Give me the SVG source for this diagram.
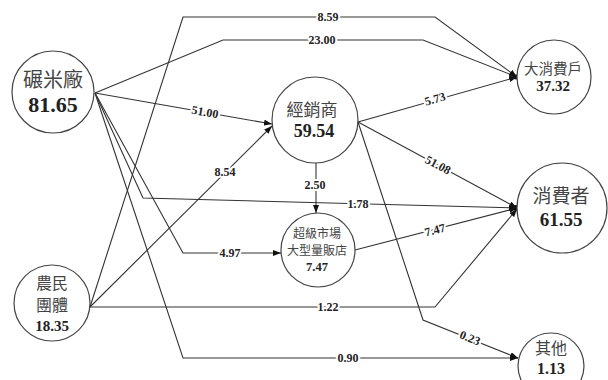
<svg xmlns="http://www.w3.org/2000/svg" width="608" height="380" viewBox="0 0 608 380">
<style>
.node{fill:#fff;stroke:#444;stroke-width:1.2}
.zh{font-family:"Noto Sans CJK TC","Noto Sans CJK SC",serif;fill:#444;text-anchor:middle}
.num{font-family:"Liberation Serif",serif;font-weight:bold;fill:#222;text-anchor:middle}
.edge{fill:none;stroke:#333;stroke-width:1.1}
.lbl{font-family:"Liberation Serif",serif;font-weight:bold;font-size:12px;fill:#222;text-anchor:middle;stroke:#fff;stroke-width:4;paint-order:stroke;stroke-linejoin:round}
</style>
<defs>
<marker id="arr" markerWidth="8" markerHeight="6" refX="8" refY="3" orient="auto" markerUnits="userSpaceOnUse">
<path d="M0,0 L8,3 L0,6 Z" fill="#111"/>
</marker>
</defs>
<rect width="608" height="380" fill="#fff"/>
<g id="connectors">
<polyline class="edge" points="95,93 223,40 423,40 517,77" marker-end="url(#arr)"/>
<polyline class="edge" points="90,307 183,17 435,17 517,77" marker-end="url(#arr)"/>
<line class="edge" x1="95" y1="93" x2="272" y2="124" marker-end="url(#arr)"/>
<line class="edge" x1="90" y1="307" x2="272" y2="126" marker-end="url(#arr)"/>
<line class="edge" x1="358" y1="122" x2="517" y2="77" marker-end="url(#arr)"/>
<line class="edge" x1="358" y1="122" x2="517" y2="208" marker-end="url(#arr)"/>
<line class="edge" x1="316" y1="163" x2="316" y2="213" marker-end="url(#arr)"/>
<polyline class="edge" points="95,93 143,198 517,208" marker-end="url(#arr)"/>
<polyline class="edge" points="95,93 183,253 281,253" marker-end="url(#arr)"/>
<line class="edge" x1="355" y1="250" x2="517" y2="208" marker-end="url(#arr)"/>
<polyline class="edge" points="90,307 435,307 517,209" marker-end="url(#arr)"/>
<polyline class="edge" points="95,93 183,358 518,358" marker-end="url(#arr)"/>
<polyline class="edge" points="358,122 423,320 518,358" marker-end="url(#arr)"/>
<circle cx="516" cy="77" r="2.5" fill="#111"/>
<circle cx="516" cy="208" r="3" fill="#111"/>
<text class="lbl" x="328" y="21">8.59</text>
<text class="lbl" x="322" y="44">23.00</text>
<text class="lbl" x="205" y="116" transform="rotate(10 205 112)">51.00</text>
<text class="lbl" x="225" y="176">8.54</text>
<text class="lbl" x="435" y="103" transform="rotate(-16 435 99)">5.73</text>
<text class="lbl" x="438" y="169" transform="rotate(28 438 165)">51.08</text>
<text class="lbl" x="315" y="189">2.50</text>
<text class="lbl" x="358" y="208">1.78</text>
<text class="lbl" x="230" y="257">4.97</text>
<text class="lbl" x="435" y="234" transform="rotate(-14.5 435 230)">7.47</text>
<text class="lbl" x="328" y="311">1.22</text>
<text class="lbl" x="348" y="362">0.90</text>
<text class="lbl" x="470" y="342" transform="rotate(22 470 338)">0.23</text>
</g>
<g id="mill">
<circle class="node" cx="53" cy="92" r="41"/>
<text class="zh" x="53" y="87" font-size="20">碾米廠</text>
<text class="num" x="53" y="112" font-size="22">81.65</text>
</g>
<g id="distributor">
<circle class="node" cx="315" cy="120" r="43"/>
<text class="zh" x="312" y="116" font-size="17">經銷商</text>
<text class="num" x="314" y="137" font-size="18">59.54</text>
</g>
<g id="bigconsumer">
<circle class="node" cx="554" cy="77" r="37"/>
<text class="zh" x="553" y="74" font-size="14.5">大消費戶</text>
<text class="num" x="553" y="91" font-size="15">37.32</text>
</g>
<g id="consumer">
<circle class="node" cx="562" cy="208" r="45"/>
<text class="zh" x="561" y="203" font-size="19">消費者</text>
<text class="num" x="561" y="226" font-size="19">61.55</text>
</g>
<g id="other">
<circle class="node" cx="551" cy="366" r="33"/>
<text class="zh" x="551" y="354" font-size="16">其他</text>
<text class="num" x="551" y="374" font-size="16">1.13</text>
</g>
<g id="farmers">
<circle class="node" cx="52" cy="303" r="38"/>
<text class="zh" x="52" y="289" font-size="16">農民</text>
<text class="zh" x="52" y="311" font-size="16">團體</text>
<text class="num" x="52" y="331" font-size="15">18.35</text>
</g>
<g id="supermarket">
<circle class="node" cx="318" cy="250" r="37"/>
<text class="zh" x="317" y="238" font-size="12">超級市場</text>
<text class="zh" x="317" y="255" font-size="12">大型量販店</text>
<text class="num" x="317" y="271" font-size="12.5">7.47</text>
</g>
</svg>
